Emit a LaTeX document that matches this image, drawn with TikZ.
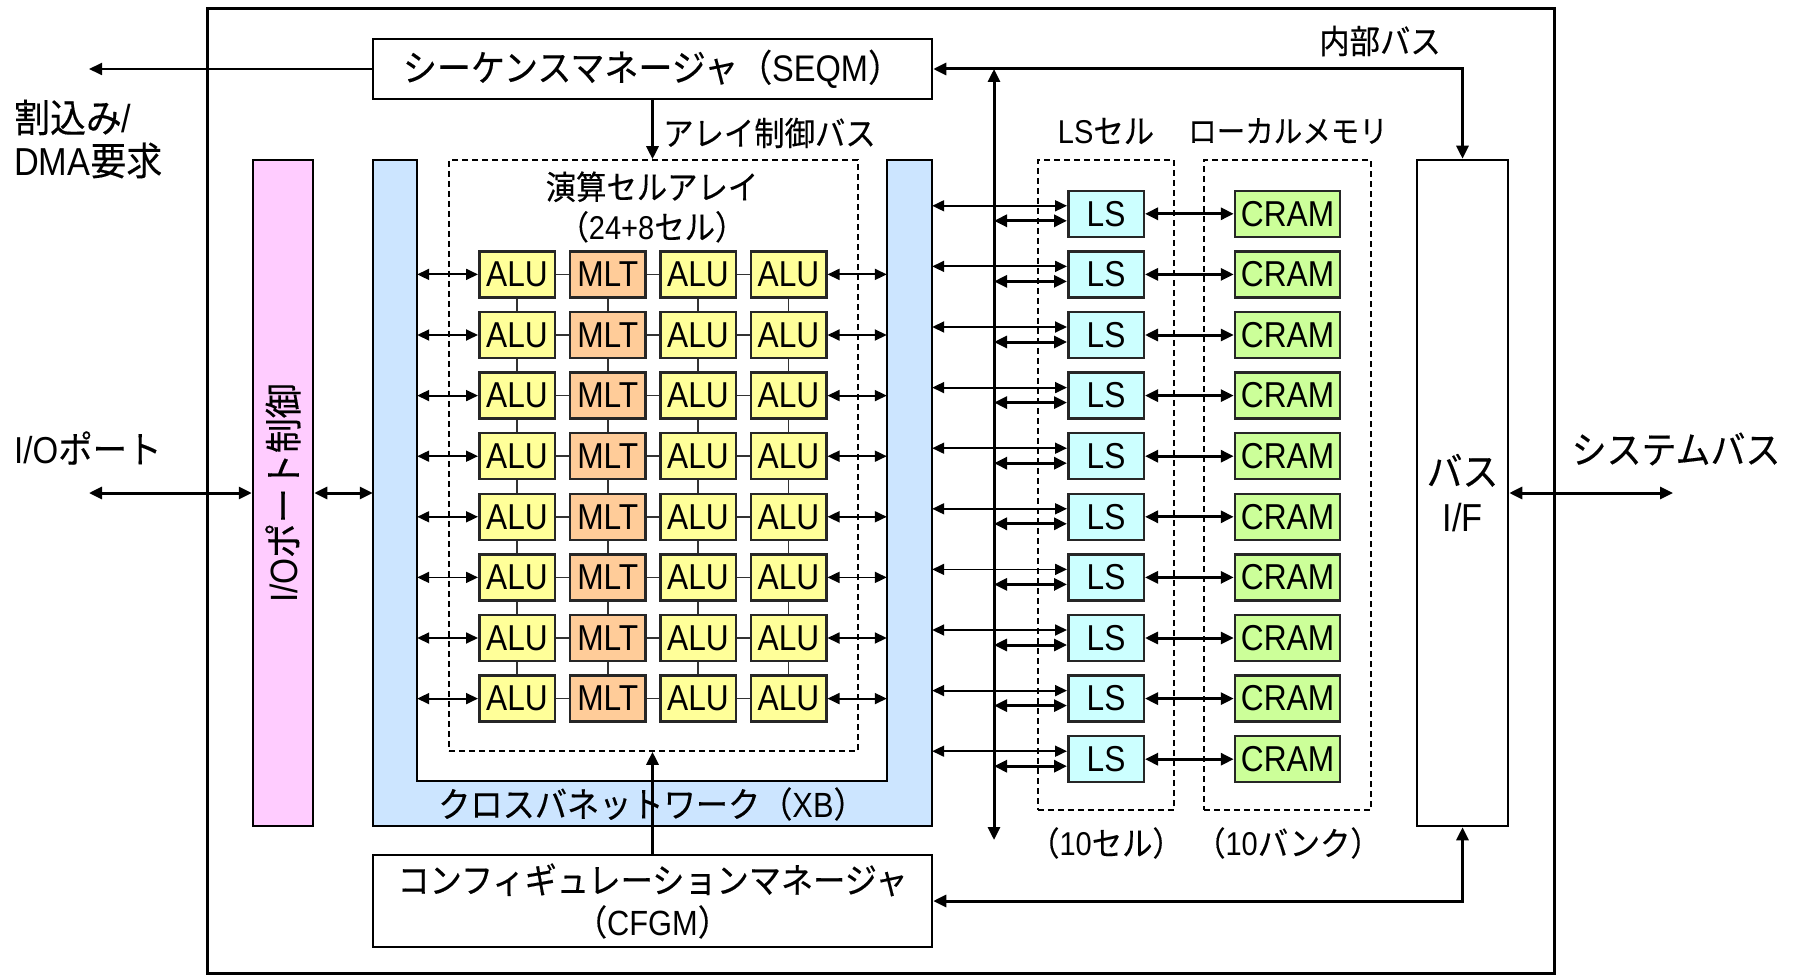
\documentclass[tikz,border=0pt]{standalone}
\usepackage{fontspec}
\setmainfont{Liberation Sans}[FakeStretch=0.88]
\newfontfamily\jp{Noto Sans CJK JP}[FakeStretch=0.92, FakeBold=0.3]
\usetikzlibrary{arrows.meta}
\definecolor{aluY}{HTML}{FFFF99}
\definecolor{mltO}{HTML}{FFCC99}
\definecolor{lsC}{HTML}{CCFFFF}
\definecolor{cramG}{HTML}{CCFF99}
\definecolor{xbB}{HTML}{CCE5FF}
\definecolor{ioP}{HTML}{FFCCFF}
\newcommand{\fs}[1]{\fontsize{#1}{#1}\selectfont}
\begin{document}
\begin{tikzpicture}[x=1pt,y=-1pt,
  box/.style={draw, line width=2.5pt, fill=white, inner sep=0pt},
  cell/.style={draw=black!85, line width=2.5pt, inner sep=0pt, minimum width=75.5pt, minimum height=46pt, font=\fs{36}},
  lbl/.style={inner sep=0pt, font=\fontsize{33}{40}\selectfont, align=center},
  link/.style={line width=1.5pt, draw=black!80},
  dbox/.style={draw, line width=1.6pt, dash pattern=on 6pt off 4pt, inner sep=0pt},
  tharrow/.style={line width=1.8pt, {Triangle[length=12pt,width=11pt]}-{Triangle[length=12pt,width=11pt]}},
  tkarrow/.style={line width=3pt, {Triangle[length=13pt,width=12pt]}-{Triangle[length=13pt,width=12pt]}},
  tkone/.style={line width=3pt, -{Triangle[length=13pt,width=12pt]}},
  thone/.style={line width=1.8pt, -{Triangle[length=13pt,width=12pt]}},
]
\useasboundingbox (0,0) rectangle (1793,976);
% outer frame
\draw[line width=3pt] (207,9) rectangle (1554,973);
% crossbar U shape
\fill[xbB] (373,160) -- (373,826) -- (932,826) -- (932,160) -- (887,160) -- (887,781) -- (417,781) -- (417,160) -- cycle;
\draw[line width=2.5pt] (373,160) -- (373,826) -- (932,826) -- (932,160) -- (887,160) -- (887,781) -- (417,781) -- (417,160) -- cycle;
\node[inner sep=0pt, minimum width=44pt, minimum height=666pt] (xbL) at (395,493) {};
\node[inner sep=0pt, minimum width=45pt, minimum height=666pt] (xbR) at (909.5,493) {};
\node[lbl, font=\fs{35}] (xblbl) at (652,804) {{\jp クロスバネットワーク（}XB{\jp ）}};
% dashed groups
\node[dbox, minimum width=409pt, minimum height=591pt] (arr) at (653.5,455.5) {};
\node[lbl] (arrlbl) at (652,207) {{\jp 演算セルアレイ}\\{\jp （}24+8{\jp セル）}};
\node[dbox, minimum width=136pt, minimum height=650pt] (lsg) at (1106,485) {};
\node[dbox, minimum width=167pt, minimum height=650pt] (crg) at (1287.5,485) {};
\node[lbl] (lslbl) at (1106,131) {LS{\jp セル}};
\node[lbl, font=\fs{31}] (crlbl) at (1288,131) {{\jp ローカルメモリ}};
\node[lbl] (lscnt) at (1106,843) {{\jp （}10{\jp セル）}};
\node[lbl] (crcnt) at (1288,843) {{\jp （}10{\jp バンク）}};
% main boxes
\node[box, minimum width=559pt, minimum height=60pt, font=\fs{37}] (seqm) at (652.5,69) {{\jp シーケンスマネージャ（}SEQM{\jp ）}};
\node[box, minimum width=559pt, minimum height=92pt, font=\fontsize{35}{42}\selectfont, align=center] (cfgm) at (652.5,901) {{\jp コンフィギュレーションマネージャ}\\{\jp （}CFGM{\jp ）}};
\node[box, fill=ioP, minimum width=60pt, minimum height=666pt] (ioctl) at (283,493) {};
\node[lbl, rotate=90, font=\fs{38}] (iotxt) at (ioctl.center) {I/O{\jp ポート制御}};
\node[box, minimum width=91pt, minimum height=666pt, font=\fontsize{39}{46}\selectfont, align=center] (busif) at (1462.5,493) {{\jp バス}\\I/F};
% free ends
\coordinate (intr) at (89,69);
\coordinate (iop) at (89,493);
\coordinate (sysb) at (1673,493);
\coordinate (bustop) at (994,69);
\coordinate (busbot) at (994,840);
% outside labels
\node[lbl, anchor=west, align=left, font=\fontsize{39}{43}\selectfont] (intrlbl) at (14,139) {{\jp 割込み}/\\DMA{\jp 要求}};
\node[lbl, anchor=west, font=\fs{37.5}] (ioplbl) at (14,448) {I/O{\jp ポート}};
\node[lbl, font=\fs{38}] (sysblbl) at (1676,449) {{\jp システムバス}};
\node[lbl] (iblbl) at (1380,41) {{\jp 内部バス}};
\node[lbl, anchor=west] (aclbl) at (663,133) {{\jp アレイ制御バス}};
% ALU array
\foreach \i in {1,...,8}{
  \foreach \c/\xx/\t/\f in {1/517/ALU/aluY, 2/607.8/MLT/mltO, 3/698/ALU/aluY, 4/788.5/ALU/aluY}{
    \node[cell, fill=\f] (a\i-\c) at (\xx,{274.4+60.6*(\i-1)}) {\t};
  }
}
\foreach \i in {1,...,8}{
  \foreach \c [evaluate=\c as \n using int(\c+1)] in {1,2,3}{
    \draw[link] (a\i-\c.east) -- (a\i-\n.west);
  }
  \draw[tharrow] (a\i-1.west) -- (a\i-1.west -| xbL.east);
  \draw[tharrow] (a\i-4.east) -- (a\i-4.east -| xbR.west);
}
\foreach \i [evaluate=\i as \n using int(\i+1)] in {1,...,7}{
  \foreach \c in {1,...,4}{
    \draw[link] (a\i-\c.south) -- (a\n-\c.north);
  }
}
% LS and CRAM
\foreach \j in {1,...,10}{
  \node[cell, fill=lsC] (ls\j) at (1106,{213.8+60.6*(\j-1)}) {LS};
  \node[cell, fill=cramG, minimum width=105pt] (cr\j) at (1287.5,{213.8+60.6*(\j-1)}) {CRAM};
  \draw[tkarrow] (ls\j.east) -- (cr\j.west);
  \draw[tharrow] ([yshift=8pt]ls\j.west) -- ([yshift=8pt]ls\j.west -| xbR.east);
  \draw[tkarrow] ([yshift=-7pt]ls\j.west) -- ([yshift=-7pt]ls\j.west -| bustop);
}
% buses and connectors
\draw[tkarrow] (bustop) -- (busbot);
\draw[tkarrow] (seqm.east) -- (seqm.east -| busif.north) -- (busif.north);
\draw[tkarrow] (cfgm.east) -- (cfgm.east -| busif.south) -- (busif.south);
\draw[thone] (seqm.west) -- (intr);
\draw[tkone] (seqm.south) -- (seqm.south |- arr.north);
\draw[tkone] (cfgm.north) -- (cfgm.north |- arr.south);
\draw[tkarrow] (iop) -- (ioctl.west);
\draw[tkarrow] (ioctl.east) -- (ioctl.east -| xbL.west);
\draw[tkarrow] (busif.east) -- (sysb);
\end{tikzpicture}
\end{document}
